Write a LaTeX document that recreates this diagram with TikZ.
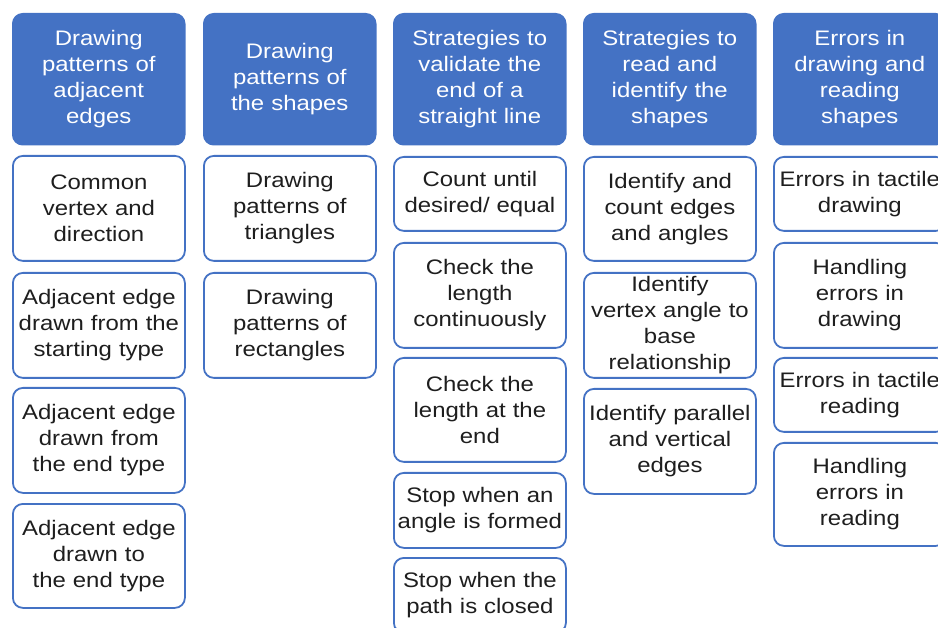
\documentclass[tikz,border=0pt]{standalone}
\usepackage{fontspec}
\setmainfont{Liberation Sans}[FakeStretch=1.14]
\usepackage{tikz}
\definecolor{cardblue}{HTML}{4472C4}
\definecolor{cardtext}{HTML}{1E1E1E}
\tikzset{
    head/.style={fill=cardblue, draw=cardblue, line width=1.5pt, rounded corners=10pt,
        text=white, anchor=north west, text width=168pt, inner sep=2pt, align=center,
        font=\fontsize{21}{26}\selectfont},
    item/.style={fill=white, draw=cardblue, line width=1.8pt, rounded corners=10pt,
        text=cardtext, anchor=north west, text width=168pt, inner sep=2pt, align=center,
        font=\fontsize{21}{26}\selectfont}
}
\newcommand{\card}[6]{ \node[#1, minimum height={(#5-#4)*1pt}] (#2) at (#3,#4) {#6};}

\begin{document}
\begin{tikzpicture}[x=1pt, y=-1pt]
        \useasboundingbox (0,0) rectangle (938,628);
        \clip (0,0) rectangle (938,628);

        % column 1
        \card{head}{h1}{12}{13}{144}{Drawing\\patterns of\\adjacent\\edges}
        \card{item}{c1a}{12}{155}{260}{Common\\vertex and\\direction}
        \card{item}{c1b}{12}{272}{377}{Adjacent edge\\drawn from the\\starting type}
        \card{item}{c1c}{12}{387}{492}{Adjacent edge\\drawn from\\the end type}
        \card{item}{c1d}{12}{503}{607}{Adjacent edge\\drawn to\\the end type}

        % column 2
        \card{head}{h2}{203}{13}{144}{Drawing\\patterns of\\the shapes}
        \card{item}{c2a}{203}{155}{260}{Drawing\\patterns of\\triangles}
        \card{item}{c2b}{203}{272}{377}{Drawing\\patterns of\\rectangles}

        % column 3
        \card{head}{h3}{393}{13}{144}{Strategies to\\validate the\\end of a\\straight line}
        \card{item}{c3a}{393}{156}{230}{Count until\\desired/ equal}
        \card{item}{c3b}{393}{242}{347}{Check the\\length\\continuously}
        \card{item}{c3c}{393}{357}{461}{Check the\\length at the\\end}
        \card{item}{c3d}{393}{472}{547}{Stop when an\\angle is formed}
        \card{item}{c3e}{393}{557}{632}{Stop when the\\path is closed}

        % column 4
        \card{head}{h4}{583}{13}{144}{Strategies to\\read and\\identify the\\shapes}
        \card{item}{c4a}{583}{156}{260}{Identify and\\count edges\\and angles}
        \card{item}{c4b}{583}{272}{377}{Identify\\vertex angle to\\base\\relationship}
        \card{item}{c4c}{583}{388}{493}{Identify parallel\\and vertical\\edges}

        % column 5
        \card{head}{h5}{773}{13}{144}{Errors in\\drawing and\\reading\\shapes}
        \card{item}{c5a}{773}{156}{230}{Errors in tactile\\drawing}
        \card{item}{c5b}{773}{242}{347}{Handling\\errors in\\drawing}
        \card{item}{c5c}{773}{357}{431}{Errors in tactile\\reading}
        \card{item}{c5d}{773}{442}{545}{Handling\\errors in\\reading}
\end{tikzpicture}
\end{document}
